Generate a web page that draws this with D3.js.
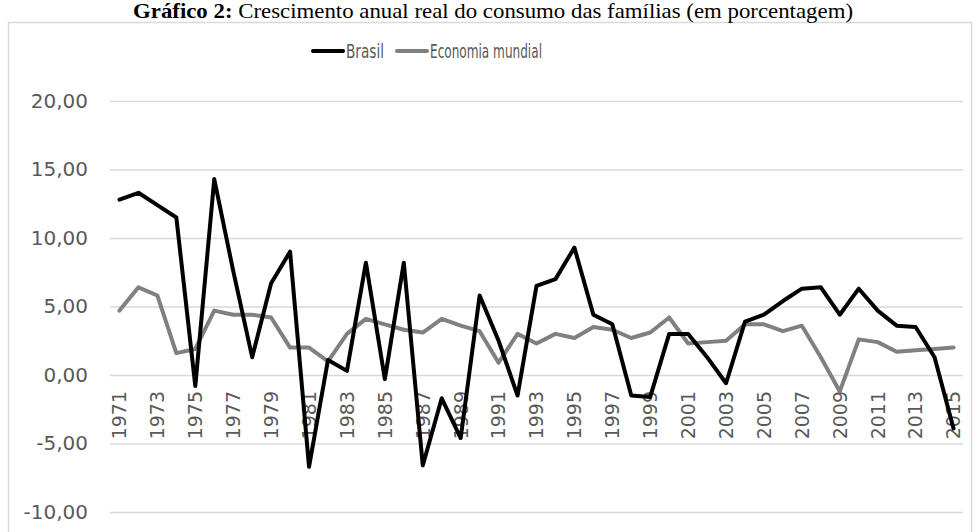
<!DOCTYPE html>
<html>
<head>
<meta charset="utf-8">
<script src="https://cdn.jsdelivr.net/npm/d3@7"></script>
<style>
  html, body { margin: 0; padding: 0; background: #fff; }
  svg { display: block; }
</style>
</head>
<body>
<div id="chart"></div>
<script>
// data
const years = d3.range(1971, 2016);
const brasil = [
  12.8, 13.3, 12.4, 11.5, -0.8, 14.3, 7.6, 1.3, 6.7, 9.0,
  -6.7, 1.1, 0.3, 8.2, -0.3, 8.2, -6.6, -1.7, -4.6, 5.8,
  2.5, -1.5, 6.5, 7.0, 9.3, 4.4, 3.7, -1.5, -1.6, 3.0,
  3.0, 1.3, -0.6, 3.9, 4.4, 5.4, 6.3, 6.4, 4.4, 6.3,
  4.7, 3.6, 3.5, 1.3, -3.9
];
const mundial = [
  4.7, 6.4, 5.8, 1.6, 1.9, 4.7, 4.4, 4.4, 4.2, 2.0,
  2.0, 1.0, 3.0, 4.1, 3.7, 3.3, 3.1, 4.1, 3.6, 3.2,
  0.9, 3.0, 2.3, 3.0, 2.7, 3.5, 3.3, 2.7, 3.1, 4.2,
  2.3, 2.4, 2.5, 3.7, 3.7, 3.2, 3.6, 1.3, -1.2, 2.6,
  2.4, 1.7, 1.8, 1.9, 2.0
];
const yTicks = [-10, -5, 0, 5, 10, 15, 20];
const xTickYears = years.filter((y) => (y - 1971) % 2 === 0);
const seriesNames = ['Brasil', 'Economia mundial'];
const seriesColors = ['#000000', '#808080'];
const titleBold = 'Gráfico 2:';
const titleRest = ' Crescimento anual real do consumo das famílias (em porcentagem)';

const width = 978;
const height = 532;
const plot = {left: 110, right: 963, top: 101, bottom: 512};

const svg = d3.select('#chart')
    .append('svg')
    .attr('width', width)
    .attr('height', height);

// frame
svg.append('rect')
    .attr('x', 8.5)
    .attr('y', 22.5)
    .attr('width', 963)
    .attr('height', 530)
    .attr('fill', '#fff')
    .attr('stroke', '#d9d9d9')
    .attr('stroke-width', 1.5);

// title
const title = svg.append('text')
    .attr('x', 493)
    .attr('y', 18)
    .attr('text-anchor', 'middle')
    .attr('font-family', '"Liberation Serif", "DejaVu Serif", serif')
    .attr('font-size', 21)
    .attr('textLength', 720)
    .attr('lengthAdjust', 'spacingAndGlyphs')
    .attr('fill', '#000');
title.append('tspan').attr('font-weight', 'bold').text(titleBold);
title.append('tspan').text(titleRest);

const x = d3.scaleBand()
    .domain(years)
    .range([plot.left, plot.right]);
const xc = (yr) => x(yr) + x.bandwidth() / 2;

const y = d3.scaleLinear()
    .domain([-10, 20])
    .range([plot.bottom, plot.top]);

// y gridlines + labels
const yAxis = d3.axisLeft(y)
    .tickValues(yTicks)
    .tickSize(-(plot.right - plot.left))
    .tickPadding(22)
    .tickFormat((d) => d.toFixed(2).replace('.', ','));

const gy = svg.append('g')
    .attr('transform', `translate(${plot.left},0)`)
    .call(yAxis);
gy.select('.domain').remove();
gy.selectAll('.tick line')
    .attr('stroke', '#d9d9d9')
    .attr('stroke-width', 1.5);
gy.selectAll('.tick text')
    .attr('font-family', '"DejaVu Sans", sans-serif')
    .attr('font-size', 20)
    .attr('fill', '#595959');

// x labels at zero line, rotated
const xAxis = d3.axisBottom(x)
    .tickValues(xTickYears)
    .tickSize(0)
    .tickPadding(0);
const gx = svg.append('g')
    .attr('transform', `translate(0,${y(0)})`)
    .call(xAxis);
gx.select('.domain').remove();
gx.selectAll('.tick text')
    .attr('font-family', '"DejaVu Sans", sans-serif')
    .attr('font-size', 19)
    .attr('fill', '#595959')
    .attr('text-anchor', 'end')
    .attr('transform', 'rotate(-90)')
    .attr('x', -16)
    .attr('y', 0)
    .attr('dy', '0.36em');

// lines
const line = d3.line()
    .x((d, i) => xc(years[i]))
    .y((d) => y(d));

[[mundial, 1], [brasil, 0]].forEach(([s, idx]) => {
  svg.append('path')
      .datum(s)
      .attr('fill', 'none')
      .attr('stroke', seriesColors[idx])
      .attr('stroke-width', 4)
      .attr('stroke-linejoin', 'round')
      .attr('stroke-linecap', 'round')
      .attr('d', line);
});

// legend
const legendItems = [
  {name: seriesNames[0], color: seriesColors[0], x: 313, w: 38},
  {name: seriesNames[1], color: seriesColors[1], x: 397, w: 112}
];
const lg = svg.append('g').attr('transform', 'translate(0,51)');
legendItems.forEach((it) => {
  lg.append('line')
      .attr('x1', it.x).attr('x2', it.x + 30)
      .attr('y1', 0).attr('y2', 0)
      .attr('stroke', it.color)
      .attr('stroke-width', 4)
      .attr('stroke-linecap', 'round');
  lg.append('text')
      .attr('x', it.x + 33)
      .attr('y', 0)
      .attr('dy', '0.35em')
      .attr('font-family', '"DejaVu Sans Condensed", sans-serif')
      .attr('font-size', 19)
      .attr('textLength', it.w)
      .attr('lengthAdjust', 'spacingAndGlyphs')
      .attr('fill', '#595959')
      .text(it.name);
});
</script>
</body>
</html>
